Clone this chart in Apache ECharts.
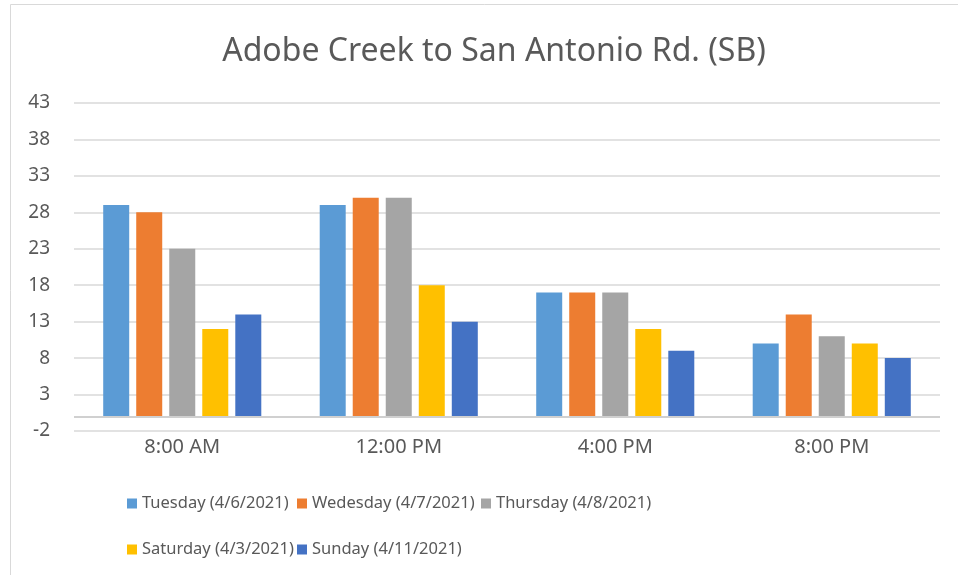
<!DOCTYPE html>
<html>
<head>
<meta charset="utf-8">
<script src="https://cdn.jsdelivr.net/npm/echarts@6/dist/echarts.min.js"></script>
<style>
  html, body { margin: 0; padding: 0; background: #fff; }
  #chart { width: 958px; height: 575px; }
</style>
</head>
<body>
<div id="chart"></div>
<script>
const categories = ['8:00 AM', '12:00 PM', '4:00 PM', '8:00 PM'];
const seriesNames = [
    'Tuesday (4/6/2021)',
    'Wedesday (4/7/2021)',
    'Thursday (4/8/2021)',
    'Saturday (4/3/2021)',
    'Sunday (4/11/2021)',
];
const tuesday = [29, 29, 17, 10];
const wednesday = [28, 30, 17, 14];
const thursday = [23, 30, 17, 11];
const saturday = [12, 18, 12, 10];
const sunday = [14, 13, 9, 8];
const colors = ['#5B9BD5', '#ED7D31', '#A5A5A5', '#FFC000', '#4472C4'];

const seriesData = [tuesday, wednesday, thursday, saturday, sunday];
const font = "'Noto Sans', sans-serif";
const textColor = '#595959';

// legend placement, Excel-like columns
const legendPos = [
    { left: 122, top: 490 },
    { left: 292, top: 490 },
    { left: 476, top: 490 },
    { left: 122, top: 536 },
    { left: 292, top: 536 },
];

const chart = echarts.init(document.getElementById('chart'), null, { renderer: 'canvas' });

const option = {
    animation: false,
    color: colors,
    title: {
        text: 'Adobe Creek to San Antonio Rd. (SB)',
        left: 489,
        textAlign: 'center',
        top: 31,
        textStyle: {
            fontFamily: font,
            fontSize: 32,
            fontWeight: 'normal',
            color: textColor,
        },
    },
    graphic: [{
        type: 'rect',
        shape: { x: 10.5, y: 4.5, width: 960, height: 580 },
        style: { fill: 'none', stroke: '#d9d9d9', lineWidth: 1 },
        silent: true,
    }],
    legend: seriesNames.map((name, i) => ({
        data: [name],
        left: legendPos[i].left,
        top: legendPos[i].top,
        icon: 'rect',
        itemWidth: 10,
        itemHeight: 10,
        textStyle: {
            fontFamily: font,
            fontSize: 16.5,
            color: textColor,
        },
        selectedMode: false,
    })),
    grid: {
        left: 74,
        right: 18,
        top: 103,
        bottom: 144,
    },
    xAxis: {
        type: 'category',
        data: categories,
        axisLine: { show: false },
        axisTick: { show: false },
        axisLabel: {
            fontFamily: font,
            fontSize: 20,
            color: textColor,
            margin: 6,
        },
    },
    yAxis: {
        type: 'value',
        min: -2,
        max: 43,
        interval: 5,
        axisLine: { show: false },
        axisTick: { show: false },
        axisLabel: {
            fontFamily: font,
            fontSize: 19,
            color: textColor,
            margin: 24,
        },
        splitLine: {
            lineStyle: { color: '#d9d9d9', width: 1.5 },
        },
    },
    series: seriesNames.map((name, i) => ({
        name,
        type: 'bar',
        data: seriesData[i],
        barWidth: 26,
        barGap: '27%',
        itemStyle: { color: colors[i] },
        markLine: i === 0 ? {
            silent: true,
            symbol: 'none',
            label: { show: false },
            lineStyle: { color: '#d0d0d0', width: 2, type: 'solid' },
            data: [{ yAxis: 0 }],
        } : undefined,
    })),
};

chart.setOption(option);
</script>
</body>
</html>
